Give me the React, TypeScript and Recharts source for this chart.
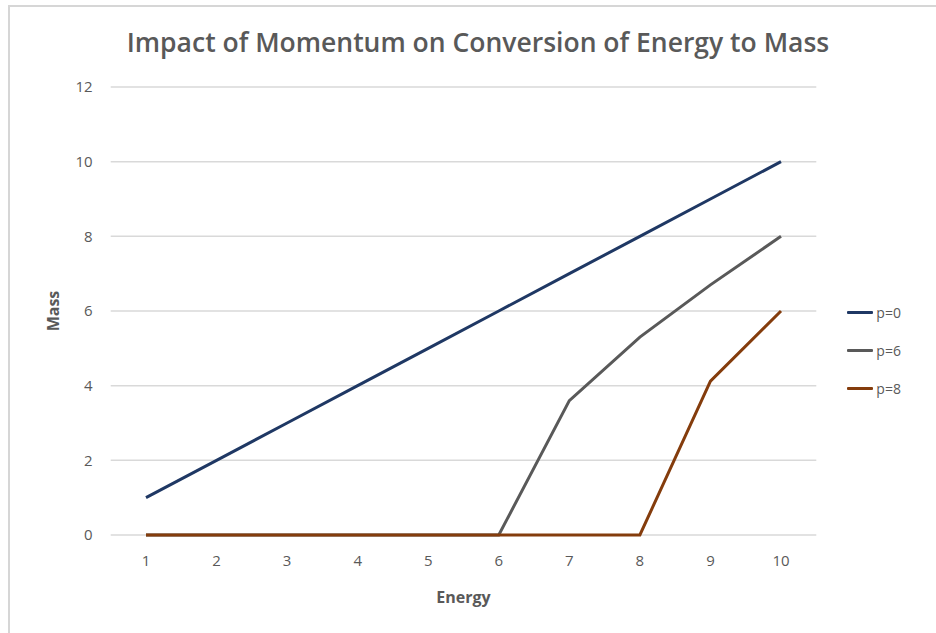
import React from 'react';
import { LineChart, Line, XAxis, YAxis, CartesianGrid, Legend } from 'recharts';

const energy = [1, 2, 3, 4, 5, 6, 7, 8, 9, 10];
const massP0 = [1, 2, 3, 4, 5, 6, 7, 8, 9, 10];
const massP6 = [0, 0, 0, 0, 0, 0, 3.6, 5.3, 6.7, 8];
const massP8 = [0, 0, 0, 0, 0, 0, 0, 0, 4.12, 6];
const yTicks = [0, 2, 4, 6, 8, 10, 12];

const seriesNames = ['p=0', 'p=6', 'p=8'];
const seriesKeys = ['p0', 'p6', 'p8'];
const seriesColors = ['#1f3864', '#595959', '#843c0c'];

const data = energy.map((e, i) => ({
  energy: e,
  p0: massP0[i],
  p6: massP6[i],
  p8: massP8[i],
}));

const FONT = '"Open Sans", "Liberation Sans", sans-serif';
const TEXT = '#595959';

const LegendContent = () => (
  <div style={{ fontFamily: FONT }}>
    {seriesNames.map((n, i) => (
      <div key={n} style={{ height: 38, display: 'flex', alignItems: 'center' }}>
        <div style={{ width: 26, height: 3, background: seriesColors[i], marginLeft: 31, borderRadius: 1 }} />
        <span style={{ marginLeft: 3, fontSize: 14, color: TEXT }}>{n}</span>
      </div>
    ))}
  </div>
);

export default function App() {
  return (
    <div style={{ position: 'absolute', left: 0, top: 0, width: 936, height: 633, background: '#fff', fontFamily: FONT, overflow: 'hidden' }}>
      <div style={{ position: 'absolute', left: 8, top: 5, width: 940, height: 640, borderTop: '2px solid #d6d6d6', borderLeft: '2px solid #d6d6d6' }} />
      <div style={{ position: 'absolute', left: 0, top: 24, width: 956, textAlign: 'center', fontSize: 26.5, fontWeight: 600, color: TEXT, whiteSpace: 'nowrap' }}>
        Impact of Momentum on Conversion of Energy to Mass
      </div>
      <div style={{ position: 'absolute', left: 0, top: 0 }}>
        <LineChart width={936} height={633} data={data} margin={{ top: 87, right: 31.7, left: 40, bottom: 30 }}>
          <CartesianGrid vertical={false} stroke="#d9d9d9" strokeWidth={1.5} />
          <XAxis
            dataKey="energy"
            type="category"
            axisLine={false}
            tickLine={false}
            tickSize={0}
            tickMargin={20}
            height={68}
            padding={{ left: 35.3, right: 35.3 }}
            tick={{ fill: TEXT, fontSize: 15, fontFamily: FONT }}
            label={{ value: 'Energy', position: 'insideBottom', offset: 0, fill: TEXT, fontSize: 16, fontWeight: 700, fontFamily: FONT }}
          />
          <YAxis
            type="number"
            domain={[0, 12]}
            ticks={yTicks}
            axisLine={false}
            tickLine={false}
            tickSize={0}
            tickMargin={18}
            width={70.7}
            tick={{ fill: TEXT, fontSize: 15, fontFamily: FONT }}
            label={{ value: 'Mass', angle: -90, position: 'insideLeft', offset: 13, fill: TEXT, fontSize: 16, fontWeight: 700, fontFamily: FONT, style: { textAnchor: 'middle' } }}
          />
          <Legend
            layout="vertical"
            align="right"
            verticalAlign="middle"
            content={<LegendContent />}
            wrapperStyle={{ width: 88, top: 293 }}
          />
          {seriesKeys.map((k, i) => (
            <Line
              key={k}
              type="linear"
              dataKey={k}
              name={seriesNames[i]}
              stroke={seriesColors[i]}
              strokeWidth={3}
              dot={false}
              activeDot={false}
              isAnimationActive={false}
            />
          ))}
        </LineChart>
      </div>
    </div>
  );
}
